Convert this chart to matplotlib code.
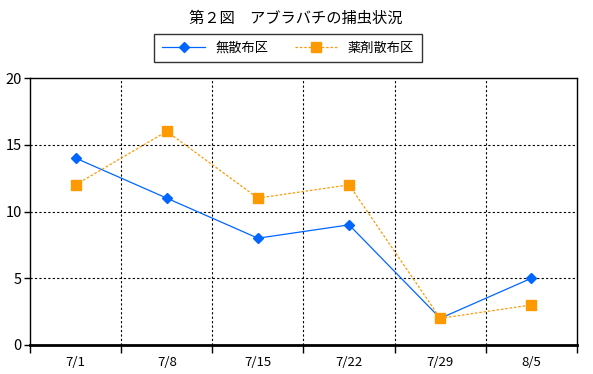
import matplotlib
matplotlib.use("Agg")
import matplotlib.pyplot as plt
import numpy as np

plt.rcParams['font.family'] = ['Noto Sans CJK JP', 'DejaVu Sans']

categories = ['7/1', '7/8', '7/15', '7/22', '7/29', '8/5']
untreated = [14, 11, 8, 9, 2, 5]
treated = [12, 16, 11, 12, 2, 3]
title = '第２図　アブラバチの捕虫状況'
labels = ['無散布区', '薬剤散布区']

fig = plt.figure(figsize=(5.93, 3.74), dpi=100)
ax = fig.add_axes([30/593, 29/374, 547/593, 267/374])

x = np.arange(len(categories))
ax.plot(x, untreated, color='#0066FF', linewidth=0.9, marker='D', markersize=5.5,
        label=labels[0], zorder=3)
ax.plot(x, treated, color='#FF9900', linewidth=0.9, linestyle=(0, (2, 1.5)),
        marker='s', markersize=7, label=labels[1], zorder=3)

ax.set_xlim(-0.5, len(categories) - 0.5)
ax.set_ylim(0, 20)
ax.set_yticks([0, 5, 10, 15, 20])
ax.set_xticks(x)
ax.set_xticklabels(categories)
ax.tick_params(axis='x', length=0, pad=8, labelsize=9.5)
ax.set_xticks(np.arange(-0.5, len(categories)), minor=True)
ax.tick_params(axis='x', which='minor', length=6, width=1, direction='out')
ax.tick_params(axis='y', length=4, width=1, labelsize=10.5, pad=2)

for v in [5, 10, 15]:
    ax.axhline(v, color='black', linewidth=0.8, linestyle=(0, (2, 2)), zorder=1)
for b in np.arange(0.5, len(categories) - 0.5):
    ax.axvline(b, color='black', linewidth=0.8, linestyle=(0, (2, 2)), zorder=1)

for s in ['left', 'right', 'top']:
    ax.spines[s].set_linewidth(1.0)
ax.spines['bottom'].set_linewidth(2.0)

fig.text(296/593, 1 - 18/374, title, ha='center', va='center', fontsize=11)

leg = fig.legend(loc='center', bbox_to_anchor=(288/593, 1 - 48/374), ncol=2,
                 frameon=True, fancybox=False, edgecolor='black', fontsize=9.5,
                 handlelength=3.2, columnspacing=2.0, borderpad=0.6, borderaxespad=0)
leg.get_frame().set_linewidth(1.0)

fig.savefig('out.png', dpi=100)
